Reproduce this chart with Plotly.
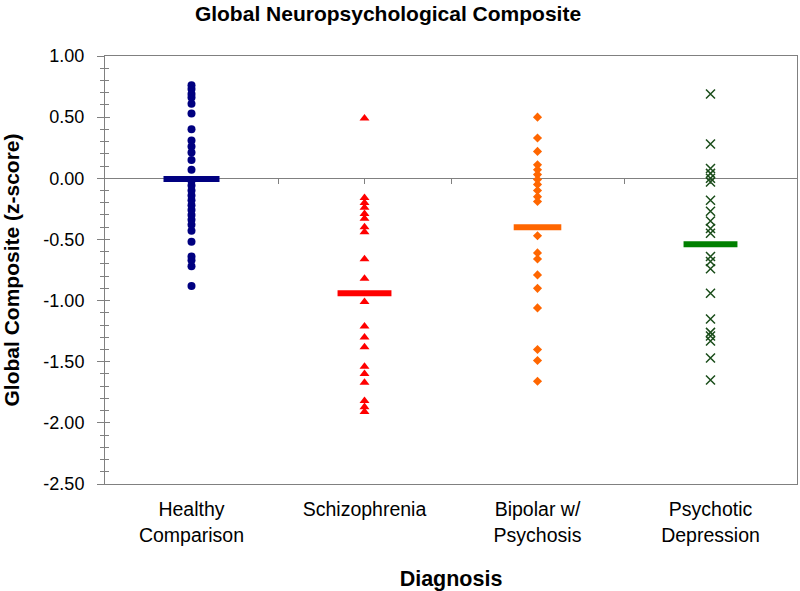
import plotly.graph_objects as go

# ---------------- data ----------------
categories = ["Healthy<br>Comparison", "Schizophrenia", "Bipolar w/<br>Psychosis", "Psychotic<br>Depression"]

healthy = [0.76, 0.73, 0.69, 0.66, 0.61, 0.53, 0.40, 0.31, 0.26, 0.21, 0.15, 0.07,
           -0.02, -0.06, -0.10, -0.14, -0.18, -0.22, -0.26, -0.30, -0.34, -0.38,
           -0.43, -0.52, -0.64, -0.67, -0.72, -0.88]
schizophrenia = [0.49, -0.16, -0.20, -0.24, -0.29, -0.33, -0.40, -0.44, -0.66, -0.82,
                 -1.01, -1.21, -1.30, -1.38, -1.54, -1.60, -1.67, -1.82, -1.87, -1.91]
bipolar = [0.50, 0.33, 0.22, 0.11, 0.07, 0.03, -0.01, -0.05, -0.10, -0.15, -0.19,
           -0.47, -0.61, -0.66, -0.79, -0.90, -1.06, -1.40, -1.49, -1.66]
psychotic_depression = [0.69, 0.28, 0.08, 0.04, 0.00, -0.03, -0.18, -0.27, -0.35, -0.41,
                        -0.45, -0.64, -0.68, -0.74, -0.94, -1.15, -1.26, -1.29, -1.33,
                        -1.47, -1.65]
group_means = [-0.005, -0.94, -0.40, -0.54]

y_ticks = [1.0, 0.5, 0.0, -0.5, -1.0, -1.5, -2.0, -2.5]
y_tick_labels = ["1.00", "0.50", "0.00", "-0.50", "-1.00", "-1.50", "-2.00", "-2.50"]
zero_line_ticks = [0, 0.5, 1, 1.5, 2, 2.5, 3]

# ---------------- styles ----------------
groups = [healthy, schizophrenia, bipolar, psychotic_depression]
marker_styles = [
    dict(symbol="circle", size=8, color="#000080", line=dict(width=0)),
    dict(symbol="triangle-up", size=8.7, color="#FF0000", line=dict(width=0)),
    dict(symbol="diamond", size=7, color="#FF6600", line=dict(width=0)),
    dict(symbol="x-thin", size=9, color="#1a4d1a", line=dict(width=1.5, color="#1a4d1a")),
]
mean_colors = ["#000080", "#FF0000", "#FF6600", "#008000"]
mean_sizes = [40, 38.5, 34, 38.5]   # line-ew length = 1.4 * size
AXIS_GRAY = "#808080"
FONT = "Liberation Sans, Arial, sans-serif"

fig = go.Figure()
for i, (vals, st) in enumerate(zip(groups, marker_styles)):
    fig.add_trace(go.Scatter(
        x=[i] * len(vals), y=vals, mode="markers", marker=st,
        showlegend=False, hoverinfo="y"))
for i, m in enumerate(group_means):
    fig.add_trace(go.Scatter(
        x=[i], y=[m], mode="markers", xaxis="x2", yaxis="y2",
        marker=dict(symbol="line-ew", size=mean_sizes[i],
                    line=dict(width=6, color=mean_colors[i])),
        showlegend=False, hoverinfo="y"))

ymin, ymax = y_ticks[-1], y_ticks[0]
zero_pos = (0 - ymin) / (ymax - ymin)

fig.update_layout(
    width=800, height=591,
    margin=dict(l=105, r=3, t=56, b=107),
    paper_bgcolor="white", plot_bgcolor="white",
    font=dict(family=FONT, color="black", size=19),
    title=dict(text="<b>Global Neuropsychological Composite</b>",
               x=388 / 800, xanchor="center", xref="container",
               y=1 - 14 / 591, yanchor="middle", yref="container",
               font=dict(size=21, family=FONT)),
    # zero line with category ticks
    xaxis=dict(range=[-0.5, 3.5], anchor="free", position=zero_pos,
               tickmode="array", tickvals=zero_line_ticks,
               ticks="outside", ticklen=5, tickcolor=AXIS_GRAY, tickwidth=1,
               showline=True, linecolor=AXIS_GRAY, linewidth=1,
               showticklabels=False, showgrid=False, zeroline=False,
               layer="below traces", automargin=False),
    # bottom category axis + frame
    xaxis2=dict(overlaying="x", anchor="y2", side="bottom", range=[-0.5, 3.5],
                tickmode="array", tickvals=list(range(len(categories))), ticktext=categories,
                ticks="", showline=True, mirror=True, linecolor=AXIS_GRAY, linewidth=1,
                showgrid=False, zeroline=False, ticklabelstandoff=8,
                tickfont=dict(size=19.5, family=FONT), automargin=False,
                title=dict(text="<b>Diagnosis</b>", standoff=28,
                           font=dict(size=21.5, family=FONT))),
    yaxis=dict(range=[ymin, ymax], tickmode="array", tickvals=y_ticks, ticktext=y_tick_labels,
               ticks="outside", ticklen=7, tickcolor=AXIS_GRAY, tickwidth=1,
               minor=dict(dtick=0.1, tick0=0, ticks="outside", ticklen=4,
                          tickcolor=AXIS_GRAY, showgrid=False),
               showline=True, mirror=True, linecolor=AXIS_GRAY, linewidth=1,
               showgrid=False, zeroline=False, ticklabelstandoff=9,
               tickfont=dict(size=18, family=FONT), automargin=False,
               title=dict(text="<b>Global Composite (z-score)</b>", standoff=24,
                          font=dict(size=21, family=FONT))),
    yaxis2=dict(overlaying="y", anchor="x2", side="left", range=[ymin, ymax],
                tickmode="array", tickvals=y_ticks,
                ticks="inside", ticklen=5, tickcolor=AXIS_GRAY,
                minor=dict(dtick=0.1, tick0=0, ticks="inside", ticklen=4,
                           tickcolor=AXIS_GRAY, showgrid=False),
                showticklabels=False, showline=False, showgrid=False, zeroline=False,
                automargin=False),
)

fig.write_html("out.html", config={"displayModeBar": False},
               post_script="document.body.style.margin='0';")
